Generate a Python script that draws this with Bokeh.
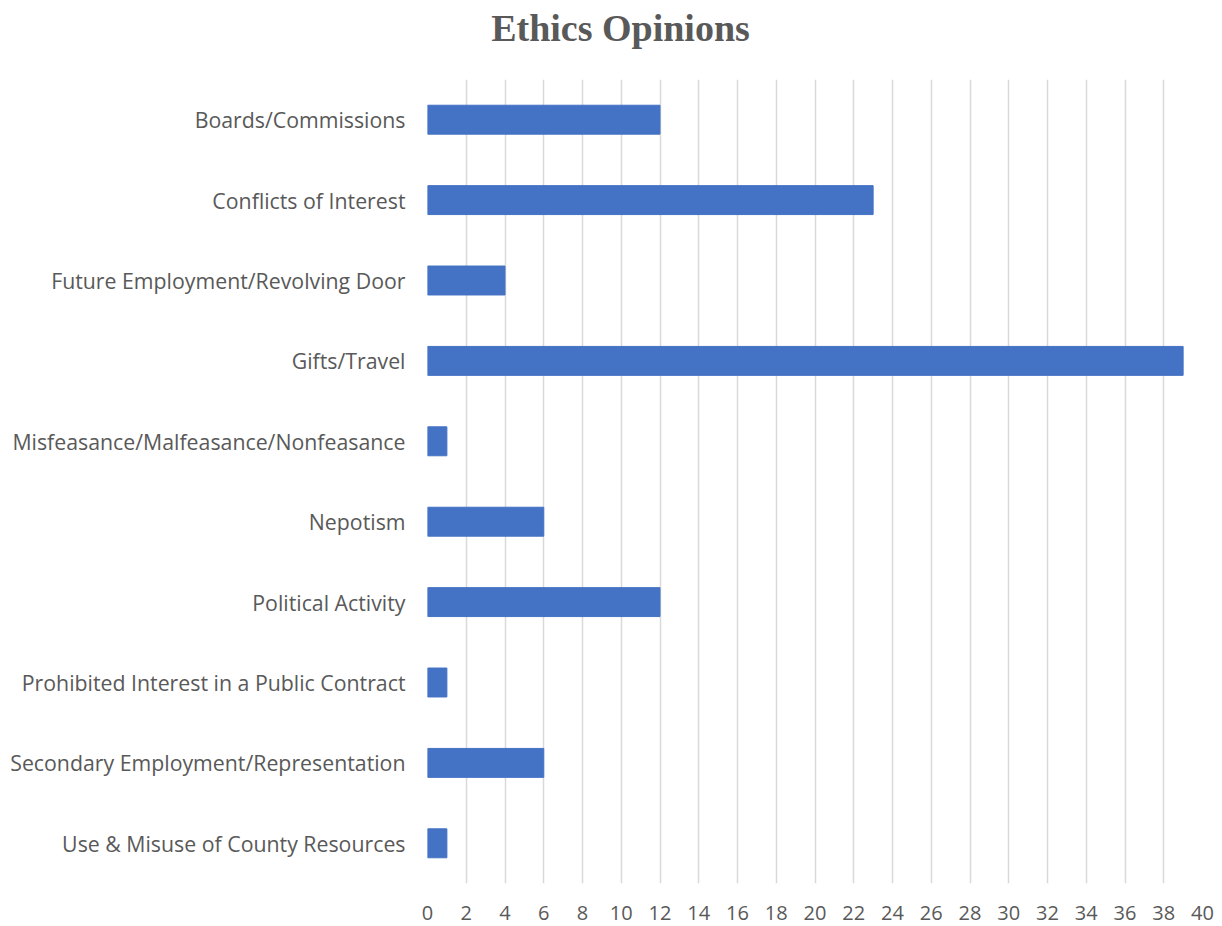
from bokeh.plotting import figure
from bokeh.embed import file_html
from bokeh.resources import INLINE
from bokeh.models import ColumnDataSource, FixedTicker
from bokeh.layouts import column
from bokeh.core.properties import value

categories = [
    "Boards/Commissions",
    "Conflicts of Interest",
    "Future Employment/Revolving Door",
    "Gifts/Travel",
    "Misfeasance/Malfeasance/Nonfeasance",
    "Nepotism",
    "Political Activity",
    "Prohibited Interest in a Public Contract",
    "Secondary Employment/Representation",
    "Use & Misuse of County Resources",
]
counts = [12, 23, 4, 39, 1, 6, 12, 1, 6, 1]
x_ticks = list(range(0, 41, 2))
title_text = "Ethics Opinions"

# ---- title strip (frame aligned with the chart's frame: pixels 427..1202) ----
t = figure(width=1222, height=79, x_range=(427, 1202), y_range=(0, 79),
           output_backend="svg", toolbar_location=None,
           min_border_left=427, min_border_right=20, min_border_top=0, min_border_bottom=0)
t.axis.visible = False
t.grid.visible = False
t.outline_line_color = None
t.background_fill_color = "white"
t.border_fill_color = "white"
t.text(x=[620], y=[52], text=[title_text], text_align="center",
       text_baseline="alphabetic", text_font=value("Liberation Serif"),
       text_font_size="38px", text_font_style="bold", text_color="#595959")

# ---- main chart ----
src = ColumnDataSource(dict(cat=categories, val=counts))

p = figure(
    width=1222, height=847,
    y_range=list(reversed(categories)),
    x_range=(0, 40),
    output_backend="svg", toolbar_location=None,
    min_border_left=427, min_border_right=20, min_border_bottom=43, min_border_top=0,
)
p.outline_line_color = None
p.background_fill_color = "white"
p.border_fill_color = "white"

p.hbar(y="cat", right="val", left=0, height=0.36, source=src,
       fill_color="#4472C4", line_color="#4472C4")

p.xaxis.ticker = FixedTicker(ticks=x_ticks)
p.xaxis.axis_line_color = None
p.xaxis.major_tick_line_color = None
p.xaxis.minor_tick_line_color = None
p.xaxis.major_label_text_font = "Open Sans"
p.xaxis.major_label_text_font_size = "20px"
p.xaxis.major_label_text_color = "#595959"
p.xaxis.major_label_standoff = 16

p.yaxis.axis_line_color = None
p.yaxis.major_tick_line_color = None
p.yaxis.minor_tick_line_color = None
p.yaxis.major_label_text_font = "Open Sans"
p.yaxis.major_label_text_font_size = "21.3px"
p.yaxis.major_label_text_color = "#595959"
p.yaxis.major_label_standoff = 16

p.xgrid.grid_line_color = "#d9d9d9"
p.xgrid.grid_line_width = 1.5
p.ygrid.grid_line_color = None

layout = column(t, p, spacing=0)
open("out.html", "w").write(file_html(layout, INLINE))
